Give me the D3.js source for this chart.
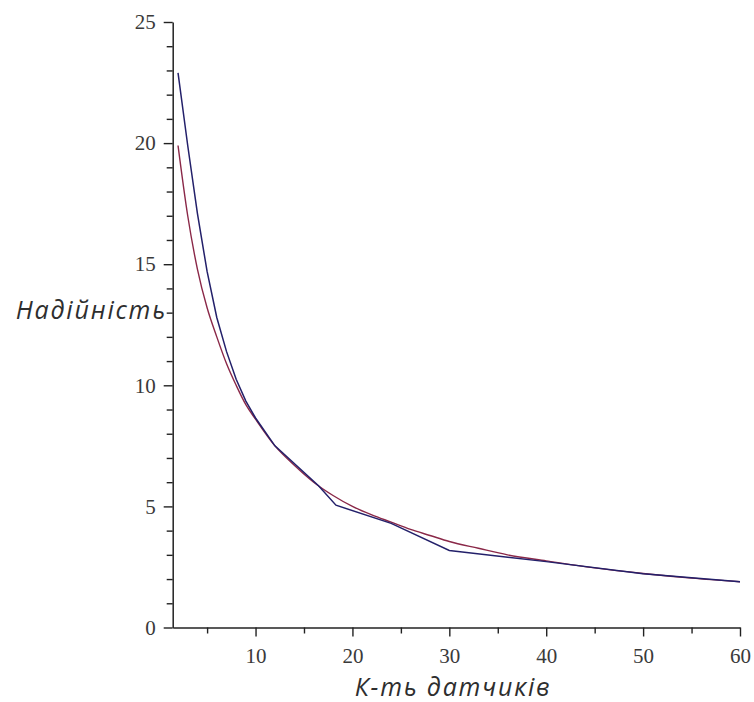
<!DOCTYPE html>
<html>
<head>
<meta charset="utf-8">
<script src="https://cdn.jsdelivr.net/npm/d3@7"></script>
<style>
  html, body { margin: 0; padding: 0; background: #fff; }
  svg { display: block; }
  .tick-label { font-family: "Liberation Serif", "DejaVu Serif", serif; font-size: 21px; fill: #3a3a3a; }
  .axis-title { font-family: "Open Sans", "Noto Sans", sans-serif; font-style: italic; font-size: 25px; letter-spacing: 1.8px; fill: #2e2e2e; }
</style>
</head>
<body>
<svg id="chart" width="754" height="702"></svg>
<script>
// Measured reliability vs. number of sensors
const measuredX = [2, 3, 4, 5, 6, 7, 8, 9, 10, 12, 16.5, 18.3, 24, 30, 40, 50, 60];
const measuredY = [22.9, 19.9, 17.1, 14.7, 12.8, 11.4, 10.25, 9.35, 8.65, 7.5, 5.85, 5.05, 4.3, 3.18, 2.72, 2.22, 1.89];

// Smooth approximating curve
const approxX = [2, 3, 4, 5, 6, 7, 8, 9, 10, 12, 14, 16, 18, 20, 22, 24, 26, 28, 30, 33, 36, 40, 45, 50, 55, 60];
const approxY = [19.9, 17.0, 14.8, 13.2, 12.0, 10.9, 10.0, 9.2, 8.6, 7.5, 6.7, 6.0, 5.45, 5.0, 4.65, 4.35, 4.05, 3.8, 3.55, 3.27, 3.0, 2.75, 2.46, 2.23, 2.04, 1.89];

const xMajorTicks = [10, 20, 30, 40, 50, 60];
const xMinorTicks = [5, 15, 25, 35, 45, 55];
const yMajorTicks = [0, 5, 10, 15, 20, 25];
const yMinorTicks = d3.range(1, 25).filter(v => v % 5 !== 0);

const yTitle = "Надійність";
const xTitle = "К-ть датчиків";

const svg = d3.select("#chart");

const x = d3.scaleLinear().domain([1.45, 60]).range([172.7, 740]);
const y = d3.scaleLinear().domain([0, 25]).range([627.5, 22]);

const axisColor = "#222";

// x axis: major ticks with labels, minor ticks without
const gx = svg.append("g").attr("transform", `translate(0,${y(0)})`);
gx.call(d3.axisBottom(x).tickValues(xMajorTicks).tickSize(9).tickPadding(12).tickSizeOuter(0));
gx.append("g").call(d3.axisBottom(x).tickValues(xMinorTicks).tickSize(6).tickFormat(""));

// y axis
const gy = svg.append("g").attr("transform", `translate(${x(1.45)},0)`);
gy.call(d3.axisLeft(y).tickValues(yMajorTicks).tickSize(9).tickPadding(8).tickSizeOuter(0));
gy.append("g").call(d3.axisLeft(y).tickValues(yMinorTicks).tickSize(6).tickFormat(""));

// keep one axis line per axis
gx.selectAll("g > g .domain").remove();
gy.selectAll("g > g .domain").remove();
svg.selectAll(".domain").attr("stroke", axisColor).attr("stroke-width", 1.5);

svg.selectAll(".tick line").attr("stroke", axisColor).attr("stroke-width", 1.4);
svg.selectAll(".tick text").attr("class", "tick-label");
svg.selectAll("g").attr("font-size", null).attr("font-family", null);

// curves
const approxLine = d3.line().x(d => x(d[0])).y(d => y(d[1])).curve(d3.curveMonotoneX);
const measuredLine = d3.line().x(d => x(d[0])).y(d => y(d[1])).curve(d3.curveLinear);

svg.append("path")
  .datum(d3.zip(approxX, approxY))
  .attr("d", approxLine)
  .attr("fill", "none")
  .attr("stroke", "#8a2848")
  .attr("stroke-width", 1.4);

svg.append("path")
  .datum(d3.zip(measuredX, measuredY))
  .attr("d", measuredLine)
  .attr("fill", "none")
  .attr("stroke", "#23206a")
  .attr("stroke-width", 1.5);

// axis titles
svg.append("text")
  .attr("class", "axis-title")
  .attr("x", 167)
  .attr("y", 319)
  .attr("text-anchor", "end")
  .text(yTitle);

svg.append("text")
  .attr("class", "axis-title")
  .attr("x", 453)
  .attr("y", 696)
  .attr("text-anchor", "middle")
  .text(xTitle);
</script>
</body>
</html>
